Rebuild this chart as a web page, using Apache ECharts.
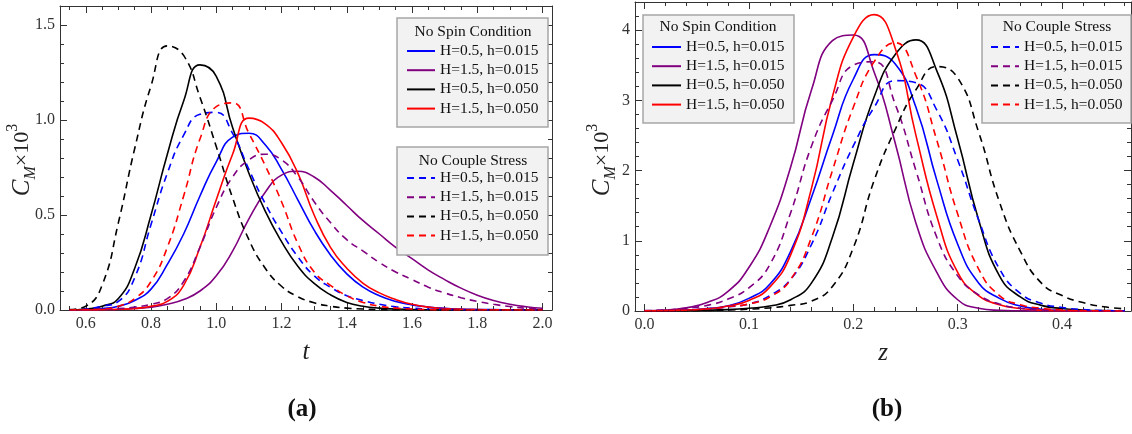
<!DOCTYPE html>
<html><head><meta charset="utf-8">
<script src="https://cdn.jsdelivr.net/npm/echarts@6/dist/echarts.min.js"></script>
<style>html,body{margin:0;padding:0;background:#fff}#c{width:1132px;height:434px}</style>
</head><body><div id="c"></div>
<script>
// ---------- DATA ----------
const LABELS = ['H=0.5, h=0.015', 'H=1.5, h=0.015', 'H=0.5, h=0.050', 'H=1.5, h=0.050'];
const COLORS = ['#0000ff', '#800080', '#000000', '#ff0000'];

// Panel (a): t grid
const T = [0.55,0.60,0.65,0.70,0.75,0.80,0.85,0.90,0.95,1.00,1.05,1.10,1.15,1.20,1.25,1.30,1.35,1.40,1.45,1.50,1.55,1.60,1.65,1.70,1.75,1.80,1.85,1.90,1.95,2.00];
// No Spin Condition (solid)
const A_spin_H05_h015 = [0,0.002,0.008,0.02,0.05, 0.11,0.24,0.40,0.60,0.78, 0.91,0.93,0.87,0.74,0.58, 0.42,0.29,0.19,0.12,0.075, 0.045,0.027,0.016,0.009,0.005, 0.003,0.002,0.001,0.0005,0];
const A_spin_H15_h015 = [0,0,0.001,0.003,0.008, 0.015,0.03,0.055,0.10,0.18, 0.31,0.48,0.62,0.71,0.73, 0.70,0.63,0.55,0.47,0.40, 0.33,0.27,0.21,0.16,0.115, 0.078,0.05,0.03,0.017,0.009];
const A_spin_H05_h050 = [0,0.005,0.02,0.06,0.22, 0.50,0.82,1.10,1.29,1.23, 0.96,0.72,0.52,0.36,0.23, 0.14,0.08,0.04,0.02,0.01, 0.005,0.002,0.001,0,0, 0,0,0,0,0];
const A_spin_H15_h050 = [0,0,0.002,0.004,0.008, 0.02,0.045,0.13,0.33,0.58, 0.82,1.01,0.98,0.88,0.72, 0.50,0.33,0.22,0.14,0.09, 0.055,0.03,0.015,0.008,0.004, 0.002,0.001,0,0,0];
// No Couple Stress (dashed)
const A_cs_H05_h015 = [0,0.005,0.02,0.045,0.17, 0.45,0.72,0.92,1.03,1.04, 0.93,0.74,0.56,0.41,0.28, 0.18,0.12,0.075,0.05,0.03, 0.017,0.01,0.005,0.003,0.001, 0,0,0,0,0];
const A_cs_H15_h015 = [0,0.001,0.003,0.007,0.015, 0.03,0.06,0.15,0.33,0.54, 0.70,0.79,0.82,0.79,0.70, 0.57,0.46,0.37,0.31,0.25, 0.20,0.16,0.12,0.09,0.065, 0.045,0.03,0.018,0.009,0.005];
const A_cs_H05_h050 = [0.002,0.02,0.13,0.46,0.85, 1.18,1.39,1.34,1.12,0.86, 0.59,0.37,0.22,0.125,0.07, 0.038,0.02,0.01,0.005,0.002, 0,0,0,0,0, 0,0,0,0,0];
const A_cs_H15_h050 = [0,0.002,0.005,0.02,0.06, 0.15,0.33,0.60,0.90,1.07, 1.09,0.93,0.76,0.57,0.35, 0.20,0.13,0.075,0.04,0.02, 0.01,0.005,0.002,0,0, 0,0,0,0,0];

// Panel (b): z grid
const Z = [0,0.02,0.04,0.06,0.08,0.10,0.12,0.14,0.16,0.18,0.20,0.22,0.24,0.26,0.28,0.30,0.32,0.34,0.36,0.38,0.40,0.42,0.44,0.46];
const B_spin_H05_h015 = [0.002,0.006,0.015,0.035,0.075,0.18,0.38,0.85,1.62,2.50,3.30,3.65,3.52,2.90,1.86,0.95,0.40,0.18,0.07,0.025,0.008,0.003,0.001,0];
const B_spin_H15_h015 = [0.003,0.012,0.045,0.12,0.28,0.62,1.20,2.05,3.15,3.85,3.93,3.40,2.40,1.25,0.55,0.16,0.04,0.01,0.003,0,0,0,0,0];
const B_spin_H05_h050 = [0.001,0.002,0.005,0.01,0.02,0.04,0.07,0.16,0.40,1.05,2.10,3.05,3.65,3.86,3.42,2.45,1.30,0.50,0.20,0.08,0.035,0.015,0.005,0.002];
const B_spin_H15_h050 = [0.002,0.005,0.015,0.03,0.07,0.15,0.34,0.80,1.75,3.05,3.90,4.22,3.75,2.50,1.35,0.55,0.22,0.09,0.035,0.012,0.004,0.001,0,0];
const B_cs_H05_h015 = [0.002,0.005,0.012,0.03,0.06,0.10,0.22,0.45,0.95,1.68,2.35,2.90,3.28,3.25,2.86,2.15,1.30,0.60,0.25,0.11,0.05,0.02,0.007,0.002];
const B_cs_H15_h015 = [0.005,0.015,0.04,0.08,0.17,0.33,0.66,1.40,2.35,3.00,3.50,3.55,2.95,2.00,1.05,0.50,0.23,0.10,0.04,0.015,0.005,0.002,0,0];
const B_cs_H05_h050 = [0.001,0.002,0.004,0.008,0.015,0.025,0.045,0.08,0.14,0.35,0.90,1.86,2.58,3.15,3.48,3.32,2.55,1.55,0.85,0.40,0.22,0.12,0.06,0.03];
const B_cs_H15_h050 = [0.002,0.005,0.012,0.03,0.06,0.10,0.20,0.45,1.05,2.00,2.90,3.55,3.82,3.35,2.43,1.38,0.60,0.22,0.09,0.04,0.015,0.005,0.002,0];

// Tick values
const A_X_MAJOR = [0.6,0.8,1.0,1.2,1.4,1.6,1.8,2.0];
const A_X_MINOR = [0.55,0.65,0.70,0.75,0.85,0.90,0.95,1.05,1.10,1.15,1.25,1.30,1.35,1.45,1.50,1.55,1.65,1.70,1.75,1.85,1.90,1.95];
const A_Y_MAJOR = [0,0.5,1.0,1.5];
const A_Y_MINOR = [0.1,0.2,0.3,0.4,0.6,0.7,0.8,0.9,1.1,1.2,1.3,1.4];
const B_X_MAJOR = [0,0.1,0.2,0.3,0.4];
const B_X_MINOR = [0.02,0.04,0.06,0.08,0.12,0.14,0.16,0.18,0.22,0.24,0.26,0.28,0.32,0.34,0.36,0.38,0.42,0.44,0.46];
const B_Y_MAJOR = [0,1,2,3,4];
const B_Y_MINOR = [0.2,0.4,0.6,0.8,1.2,1.4,1.6,1.8,2.2,2.4,2.6,2.8,3.2,3.4,3.6,3.8,4.2];

const SPIN_TITLE = 'No Spin Condition';
const CS_TITLE = 'No Couple Stress';

// ---------- BUILD ----------
const FONT = 'Liberation Serif';
const FRAME = '#333';
const SP = 'No Spin: ', CS = 'No Couple: ';

function axes(dim, g, min, max, majors, minors, fmt, name) {
  const posA = dim === 'x' ? 'bottom' : 'left';
  const posB = dim === 'x' ? 'top' : 'right';
  const base = {type: 'value', gridIndex: g, min: min, max: max, splitLine: {show: false}};
  const mk = (pos, vals, len, line, label) => Object.assign({}, base, {
    position: pos,
    axisLine: {show: line, onZero: false, lineStyle: {color: FRAME, width: 1}},
    axisTick: {show: true, inside: true, length: len, customValues: vals, lineStyle: {color: FRAME, width: 1}},
    axisLabel: label ? {show: true, customValues: vals, formatter: fmt, color: '#333', fontFamily: FONT, fontSize: 16, margin: dim === 'x' ? 6 : 5} : {show: false}
  });
  const main = mk(posA, majors, 7, true, true);
  if (name) {
    main.name = name; main.nameLocation = 'middle'; main.nameGap = 30;
    main.nameTextStyle = {fontFamily: FONT, fontStyle: 'italic', fontSize: 25, color: '#222'};
  }
  return [main, mk(posA, minors, 4, false, false), mk(posB, majors, 7, true, false), mk(posB, minors, 4, false, false)];
}

const f1 = v => v.toFixed(1);
const f0 = v => String(Math.round(v));
const xAxis = [].concat(
  axes('x', 0, 0.521, 2.029, A_X_MAJOR, A_X_MINOR, f1, 't'),
  axes('x', 1, -0.0091, 0.466, B_X_MAJOR, B_X_MINOR, f1, 'z'));
const yAxis = [].concat(
  axes('y', 0, 0, 1.6, A_Y_MAJOR, A_Y_MINOR, f1),
  axes('y', 1, 0, 4.4, B_Y_MAJOR, B_Y_MINOR, f0));

function line(name, xs, ys, color, dashed, ai) {
  return {
    type: 'line', name: name, xAxisIndex: ai, yAxisIndex: ai,
    data: xs.map((x, i) => [x, ys[i]]),
    smooth: 0.5, symbol: 'none', showSymbol: false, clip: true, silent: true,
    lineStyle: {color: color, width: 1.6, type: dashed ? [7, 5] : 'solid'},
    itemStyle: {color: color}
  };
}
const A_SPIN = [A_spin_H05_h015, A_spin_H15_h015, A_spin_H05_h050, A_spin_H15_h050];
const A_CS = [A_cs_H05_h015, A_cs_H15_h015, A_cs_H05_h050, A_cs_H15_h050];
const B_SPIN = [B_spin_H05_h015, B_spin_H15_h015, B_spin_H05_h050, B_spin_H15_h050];
const B_CS = [B_cs_H05_h015, B_cs_H15_h015, B_cs_H05_h050, B_cs_H15_h050];
const series = [];
LABELS.forEach((l, i) => series.push(line(SP + l, T, A_SPIN[i], COLORS[i], false, 0)));
LABELS.forEach((l, i) => series.push(line(CS + l, T, A_CS[i], COLORS[i], true, 0)));
LABELS.forEach((l, i) => series.push(line(SP + l, Z, B_SPIN[i], COLORS[i], false, 4)));
LABELS.forEach((l, i) => series.push(line(CS + l, Z, B_CS[i], COLORS[i], true, 4)));

function legend(prefix, left, top, w) {
  return {
    data: LABELS.map(l => prefix + l), left: left, top: top, orient: 'vertical',
    itemWidth: w, itemHeight: 14, itemGap: 3.2, padding: 0, selectedMode: false, z: 12,
    itemStyle: {color: 'transparent', borderWidth: 0, opacity: 0},
    formatter: n => n.slice(prefix.length),
    textStyle: {fontFamily: FONT, fontSize: 15.5, color: '#111'}
  };
}
function box(x, y, w, h) {
  return {type: 'rect', z: 10, shape: {x: x, y: y, width: w, height: h},
    style: {fill: '#f2f2f2', stroke: '#a6a6a6', lineWidth: 1.5}};
}
function ttl(text, x, y) {
  return {type: 'text', z: 11, x: x, y: y,
    style: {text: text, fontFamily: FONT, fontSize: 15.5, fill: '#111', align: 'center', verticalAlign: 'middle'}};
}
function yname(x, y) {
  return {type: 'text', z: 11, x: x, y: y, rotation: Math.PI / 2,
    style: {text: '{c|C}{s|M}{n|×10}{p|3}', align: 'center', verticalAlign: 'middle', fill: '#222',
      rich: {
        c: {fontFamily: FONT, fontStyle: 'italic', fontSize: 25, lineHeight: 34, verticalAlign: 'middle'},
        s: {fontFamily: FONT, fontStyle: 'italic', fontSize: 16, lineHeight: 34, verticalAlign: 'bottom'},
        n: {fontFamily: FONT, fontSize: 22, lineHeight: 34, verticalAlign: 'middle'},
        p: {fontFamily: FONT, fontSize: 16, lineHeight: 34, verticalAlign: 'top'}
      }}};
}
function caption(text, x, y) {
  return {type: 'text', z: 11, x: x, y: y,
    style: {text: text, fontFamily: FONT, fontWeight: 'bold', fontSize: 25, fill: '#111', align: 'center', verticalAlign: 'middle'}};
}

const option = {
  animation: false,
  backgroundColor: '#fff',
  grid: [
    {left: 60, right: 580, top: 6, bottom: 124},
    {left: 635, right: 1, top: 2, bottom: 123}
  ],
  xAxis: xAxis, yAxis: yAxis, series: series,
  legend: [
    legend(SP, 406, 43, 28), legend(CS, 406, 170, 28),
    legend(SP, 651, 39, 29), legend(CS, 990, 39, 28)
  ],
  graphic: [
    box(397, 18, 151, 109), ttl(SPIN_TITLE, 473, 32),
    box(397, 147, 151, 108), ttl(CS_TITLE, 473, 161),
    box(643, 15, 151, 108), ttl(SPIN_TITLE, 718, 27),
    box(982, 15, 149, 108), ttl(CS_TITLE, 1057, 27),
    yname(22, 160), yname(602, 160),
    caption('(a)', 302, 410), caption('(b)', 887, 410)
  ]
};
echarts.init(document.getElementById('c')).setOption(option);
</script></body></html>
